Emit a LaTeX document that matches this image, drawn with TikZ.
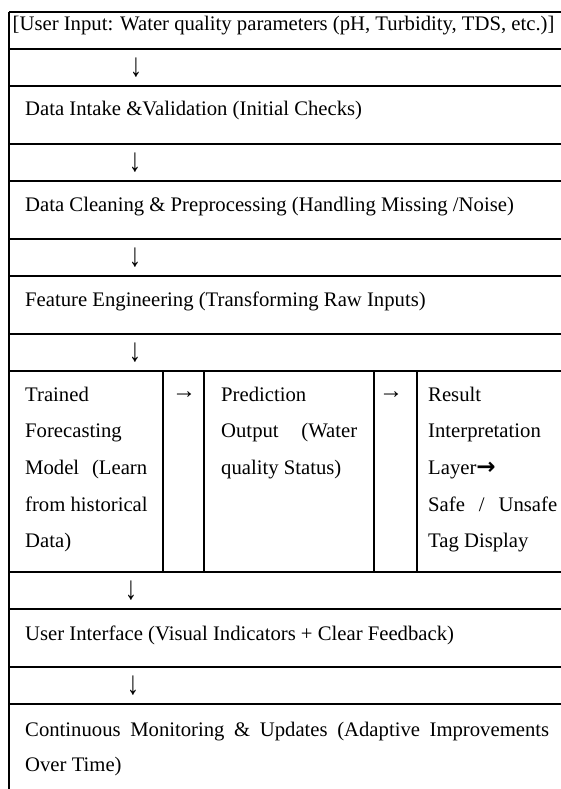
\documentclass[tikz,border=0pt]{standalone}
\usepackage{graphicx}
\usepackage{fontspec}
\setmainfont{Liberation Serif}
\newfontfamily\arrowfont{DejaVu Sans}
\usetikzlibrary{calc,positioning}
\newcommand{\cellfont}{\fontsize{20.7}{36.7}\selectfont}
\newcommand{\jline}[2]{\makebox[#1pt][s]{#2}}
\newcommand{\tallarrow}{\scalebox{1}[1.35]{↓}}

\begin{document}
\begin{tikzpicture}[x=1pt,y=-1pt,
    every node/.style={inner sep=0pt,font=\cellfont},
    rule/.style={line width=1.6pt},
    txt/.style={anchor=base west},
    down/.style={font=\fontsize{24.5}{24.5}\selectfont},
    right/.style={anchor=west,font=\fontsize{24}{24}\selectfont}]
  \useasboundingbox (0,0) rectangle (561,789);

  % horizontal rules of the table
  \foreach \y/\n in {12/r0,49/r1,86/r2,144/r3,181/r4,239/r5,276/r6,334/r7,371/r8,572/r9,609/r10,667/r11,704/r12}
    \draw[rule] (9,\y) coordinate (\n w) -- (561,\y) coordinate (\n e);
  % left border runs down past the last row
  \draw[rule] (r0w) -- (9,789) coordinate (bot);
  % dividers of the three-column row
  \foreach \x/\n in {163/c1,204/c2,374/c3,417/c4}
    \draw[rule] (\x,371) coordinate (\n t) -- (\x,572) coordinate (\n b);

  % single rows
  \node[txt] (input) at (12.5,31) {[User Input: Water quality parameters (pH, Turbidity, TDS, etc.)]};
  \node[down] (d1) at (136,67.5) {\tallarrow};
  \node[txt] (intake) at (25,116) {Data Intake \&Validation (Initial Checks)};
  \node[down] (d2) at (135,162.5) {\tallarrow};
  \node[txt] (clean) at (25,211) {Data Cleaning \& Preprocessing (Handling Missing /Noise)};
  \node[down] (d3) at (135,257.5) {\tallarrow};
  \node[txt] (feature) at (25,306) {Feature Engineering (Transforming Raw Inputs)};
  \node[down] (d4) at (135,352.5) {\tallarrow};

  % model / prediction / result row
  \node[txt] (m1) at (25,401) {Trained};
  \node[txt] (m2) at (25,437.7) {Forecasting};
  \node[txt] (m3) at (25,474.4) {\jline{122}{Model (Learn}};
  \node[txt] (m4) at (25,511.1) {from historical};
  \node[txt] (m5) at (25,547.8) {Data)};
  \node[right] (a1) at (172,395.5) {→};
  \node[txt] (p1) at (221,401) {Prediction};
  \node[txt] (p2) at (221,437.7) {\jline{136}{Output (Water}};
  \node[txt] (p3) at (221,474.4) {quality Status)};
  \node[right] (a2) at (379,395.5) {→};
  \node[txt] (s1) at (428,401) {Result};
  \node[txt] (s2) at (428,437.7) {Interpretation};
  \node[txt] (s3) at (428,474.4) {Layer{\arrowfont\bfseries\fontsize{23}{23}\selectfont →}};
  \node[txt] (s4) at (428,511.1) {\jline{129}{Safe / Unsafe}};
  \node[txt] (s5) at (428,547.8) {Tag Display};

  \node[down] (d5) at (131,590.5) {\tallarrow};
  \node[txt] (ui) at (25,640) {User Interface (Visual Indicators + Clear Feedback)};
  \node[down] (d6) at (133,685.5) {\tallarrow};
  \node[txt] (mon1) at (25,736) {\jline{524}{Continuous Monitoring \& Updates (Adaptive Improvements}};
  \node[txt] (mon2) at (25,771) {Over Time)};
\end{tikzpicture}
\end{document}
